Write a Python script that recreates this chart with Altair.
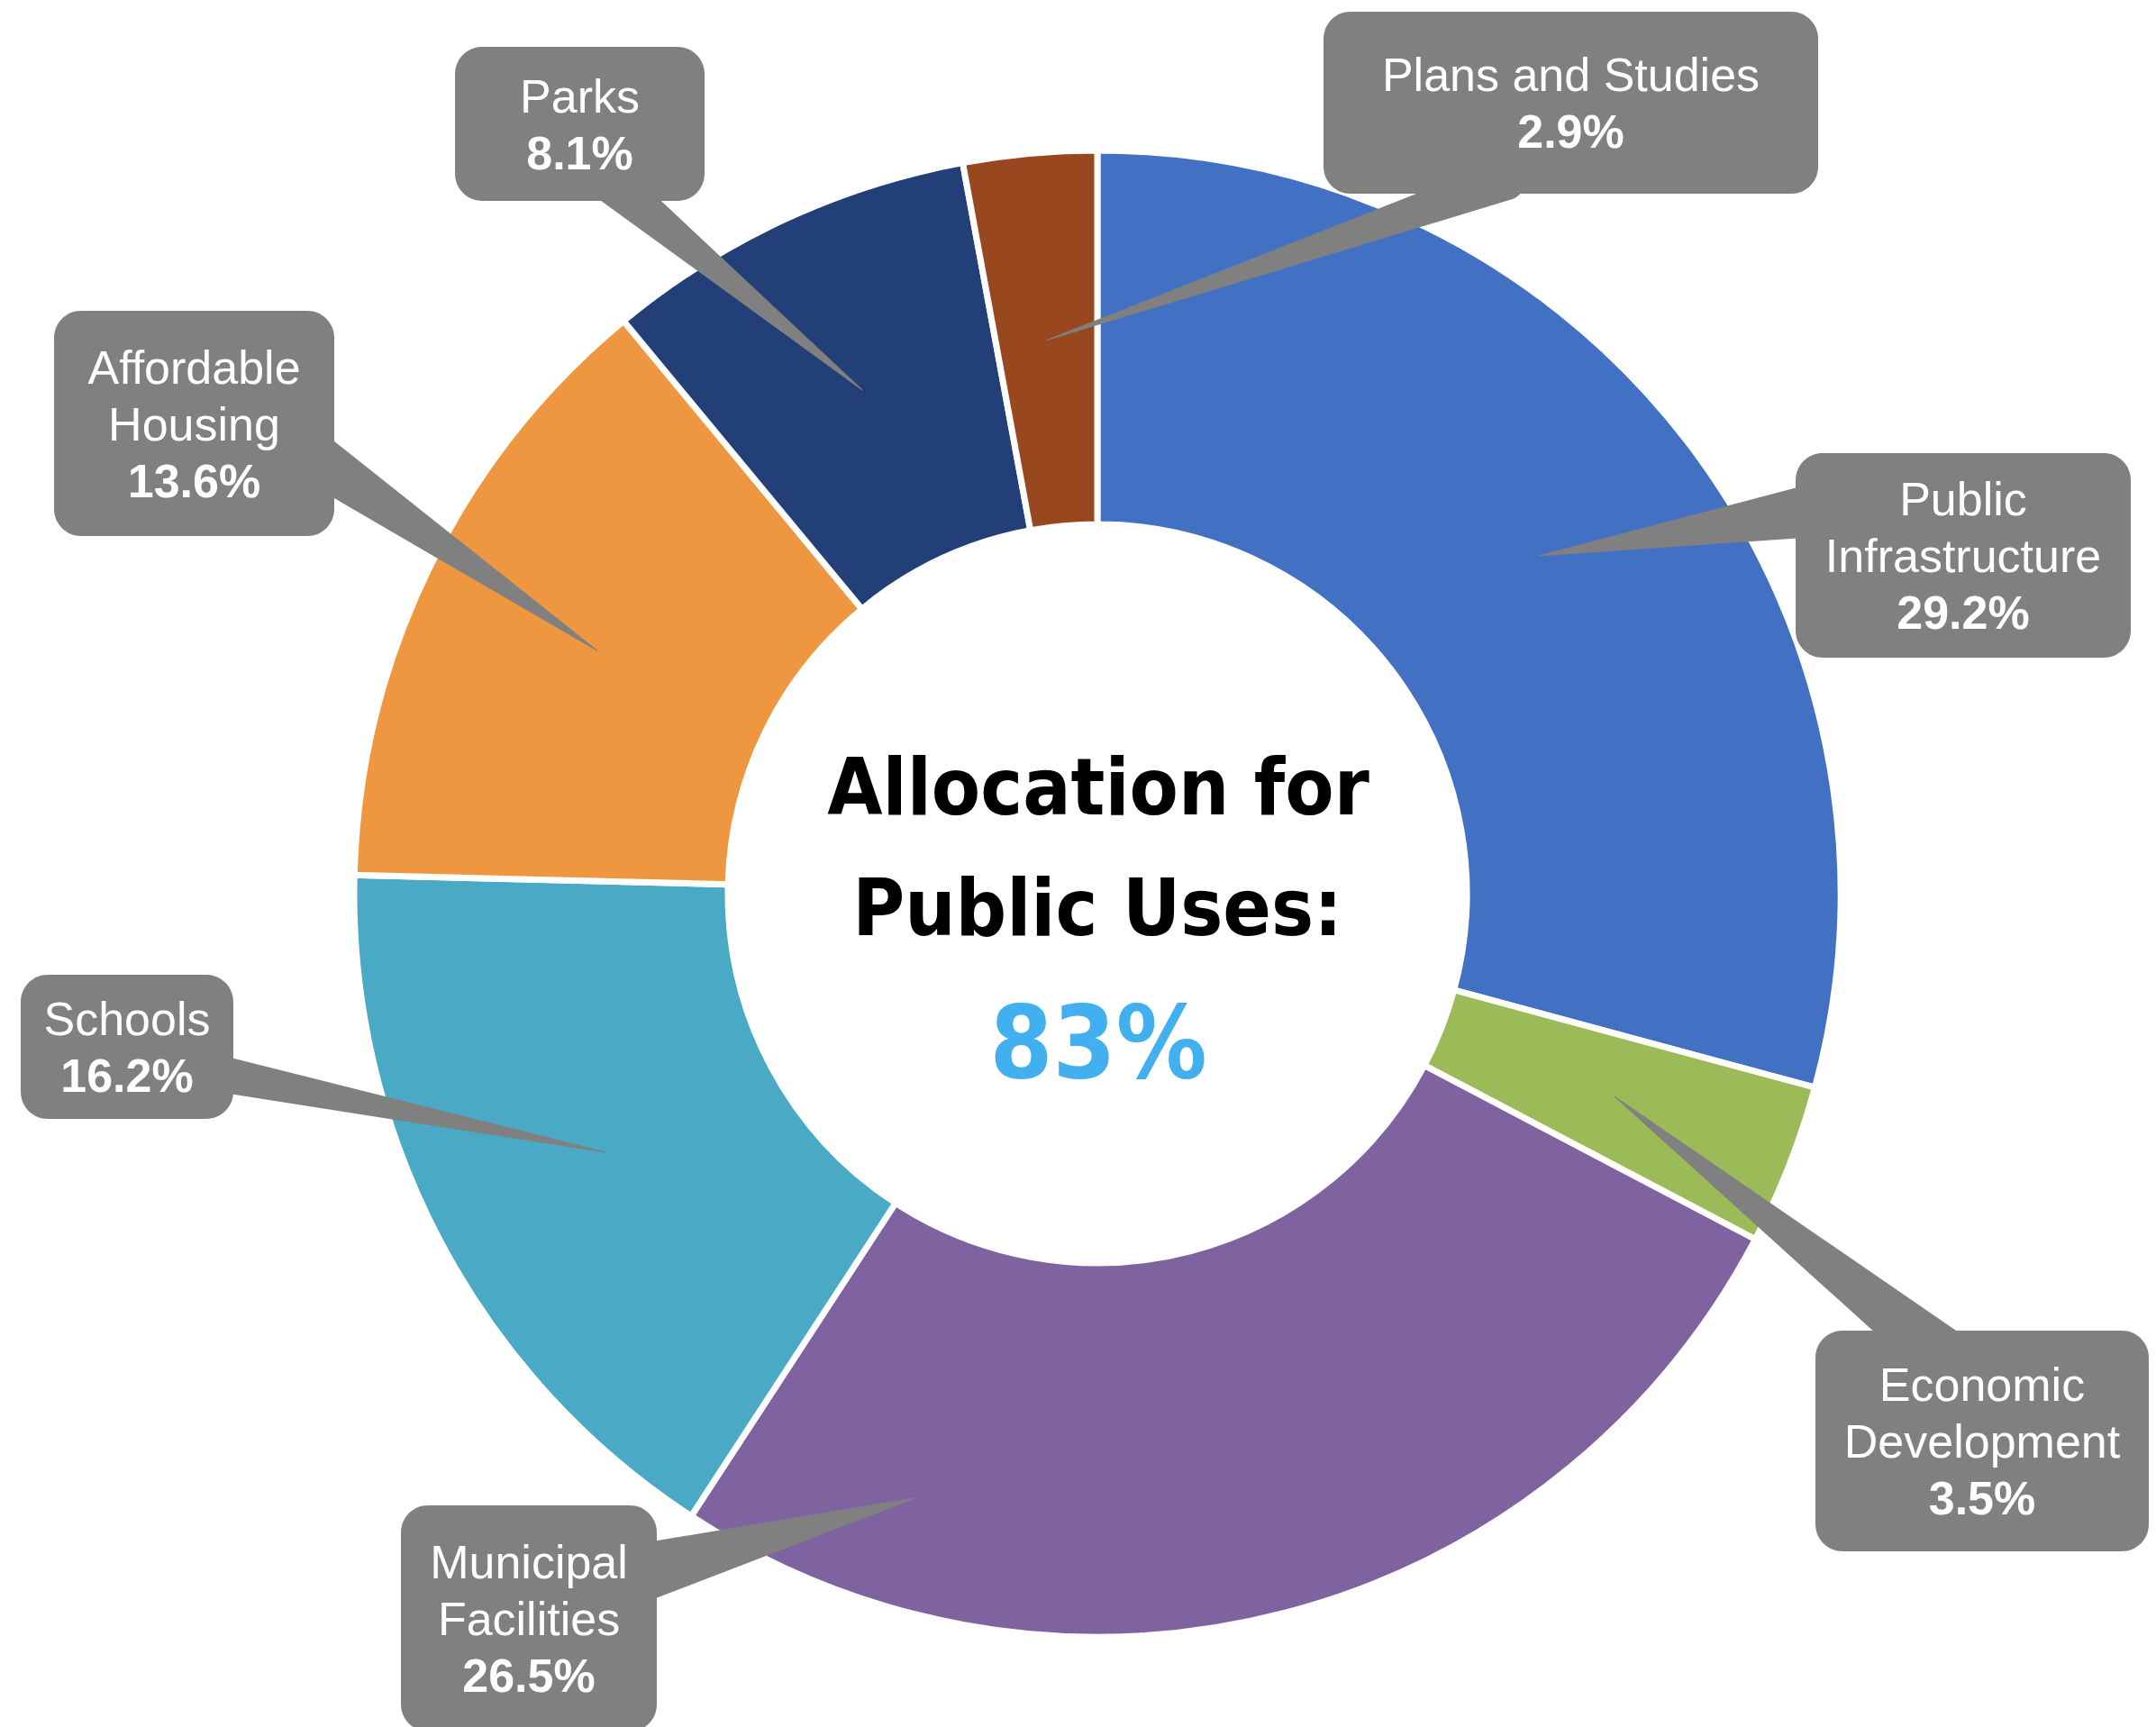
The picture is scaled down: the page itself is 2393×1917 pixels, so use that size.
import math
import altair as alt
import pandas as pd

# ---- data ----
categories = ["Public Infrastructure", "Economic Development", "Municipal Facilities",
              "Schools", "Affordable Housing", "Parks", "Plans and Studies"]
values = [29.2, 3.5, 26.5, 16.2, 13.6, 8.1, 2.9]
colors = ["#4270C2", "#9BBB59", "#7E63A0", "#4AA9C4", "#EF9641", "#233F77", "#98471F"]
label_names = ["Public\nInfrastructure", "Economic\nDevelopment", "Municipal\nFacilities",
               "Schools", "Affordable\nHousing", "Parks", "Plans and Studies"]
center_lines = ["Allocation for", "Public Uses:"]
center_value = "83%"

# ---- layout (pixels) ----
W, H = 2393, 1917
CX, CY = 1218, 992
R_IN, R_OUT = 410, 825
TIP_R = 617
LINE_H = 63
CAP_H = 37
# label boxes: x0, x1, y0, y1
boxes = [(1993, 2365, 503, 730), (2015, 2385, 1477, 1722), (445, 729, 1671, 1922),
         (23, 259, 1082, 1242), (60, 371, 345, 595), (505, 782, 52, 223), (1469, 2018, 13, 215)]
# where the callout meets the box, and its width there
attach = [(1993, 570), (2121, 1477), (729, 1741), (259, 1195), (371, 523), (703, 223), (1628, 215)]
attach_w = [55, 57, 61, 39, 52, 42, 41]
tip_override = {2: (196.8, 701)}

df = pd.DataFrame({"cat": categories, "value": values, "idx": list(range(len(values)))})

# tips from the data (mid angle of each slice)
total = sum(values)
cum = 0
tips = []
for i, v in enumerate(values):
    mid = (cum + v / 2) / total * 360
    r = TIP_R
    if i in tip_override:
        mid, r = tip_override[i]
    a = math.radians(mid)
    tips.append((CX + r * math.sin(a), CY - r * math.cos(a)))
    cum += v

trail_rows = []
box_rows = []
name_rows = []
pct_rows = []
for i, cat in enumerate(categories):
    x0, x1, y0, y1 = boxes[i]
    ex, ey = attach[i]
    tx, ty = tips[i]
    de = math.hypot(ex - tx, ey - ty)
    ux, uy = (ex - tx) / de, (ey - ty) / de
    ext = 45
    bx, by = ex + ux * ext, ey + uy * ext
    bw = attach_w[i] * (de + ext) / de
    trail_rows.append({"id": cat, "k": 0, "x": bx, "y": by, "w": bw})
    trail_rows.append({"id": cat, "k": 1, "x": tx, "y": ty, "w": 0.0})
    box_rows.append({"id": cat, "x0": x0, "x1": x1, "y0": y0, "y1": y1})
    nlines = label_names[i].count("\n") + 1
    ccx = (x0 + x1) / 2
    ccy = (y0 + y1) / 2
    first = ccy - nlines * LINE_H / 2 + CAP_H / 2
    name_rows.append({"id": cat, "x": ccx, "y": first, "t": label_names[i]})
    pct_rows.append({"id": cat, "x": ccx, "y": first + nlines * LINE_H, "t": f"{values[i]:.1f}%"})

xs = alt.Scale(domain=[0, W], nice=False, zero=False)
ys = alt.Scale(domain=[0, H], nice=False, zero=False, reverse=True)

donut = alt.Chart(df).mark_arc(
    innerRadius=R_IN, outerRadius=R_OUT, stroke="white", strokeWidth=7, x=CX, y=CY
).encode(
    theta=alt.Theta("value:Q", stack=True),
    order=alt.Order("idx:Q"),
    color=alt.Color("cat:N", scale=alt.Scale(domain=categories, range=colors), legend=None),
)

trails = alt.Chart(pd.DataFrame(trail_rows)).mark_trail(color="#808080").encode(
    x=alt.X("x:Q", scale=xs, axis=None),
    y=alt.Y("y:Q", scale=ys, axis=None),
    size=alt.Size("w:Q", scale=None, legend=None),
    detail="id:N",
    order="k:Q",
)

rects = alt.Chart(pd.DataFrame(box_rows)).mark_rect(color="#808080", cornerRadius=30).encode(
    x=alt.X("x0:Q", scale=xs, axis=None), x2="x1:Q",
    y=alt.Y("y0:Q", scale=ys, axis=None), y2="y1:Q",
)

names = alt.Chart(pd.DataFrame(name_rows)).mark_text(
    font="Liberation Sans", fontSize=52, color="white", align="center",
    baseline="alphabetic", lineBreak="\n", lineHeight=LINE_H
).encode(
    x=alt.X("x:Q", scale=xs, axis=None), y=alt.Y("y:Q", scale=ys, axis=None), text="t:N"
)

pcts = alt.Chart(pd.DataFrame(pct_rows)).mark_text(
    font="Liberation Sans", fontSize=52, fontWeight="bold", color="white", align="center",
    baseline="alphabetic"
).encode(
    x=alt.X("x:Q", scale=xs, axis=None), y=alt.Y("y:Q", scale=ys, axis=None), text="t:N"
)

center_df = pd.DataFrame({
    "t": center_lines + [center_value],
    "x": [CX + 1, CX, CX + 1],
    "y": [904, 1038, 1196],
    "c": ["title", "title", "value"],
})
center_font = "'DejaVu Sans Condensed', 'DejaVu Sans', sans-serif"
center_title = alt.Chart(center_df[center_df.c == "title"]).mark_text(
    font=center_font, fontSize=88, fontWeight="bold", color="black", align="center",
    baseline="alphabetic"
).encode(
    x=alt.X("x:Q", scale=xs, axis=None), y=alt.Y("y:Q", scale=ys, axis=None), text="t:N"
)
center_val = alt.Chart(center_df[center_df.c == "value"]).mark_text(
    font=center_font, fontSize=112, fontWeight="bold", color="#42B0EE", align="center",
    baseline="alphabetic"
).encode(
    x=alt.X("x:Q", scale=xs, axis=None), y=alt.Y("y:Q", scale=ys, axis=None), text="t:N"
)

chart = alt.layer(donut, trails, rects, names, pcts, center_title, center_val).properties(
    width=W, height=H, padding=0, autosize=alt.AutoSizeParams(type="none"), background="white"
).configure_view(stroke=None)

chart.save("out.html", embed_options={"renderer": "svg", "actions": False})
